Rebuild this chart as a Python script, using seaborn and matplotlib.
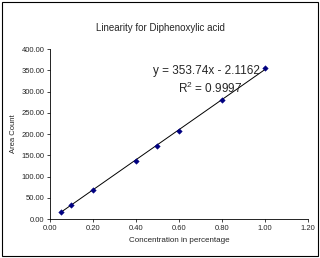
import seaborn as sns
import pandas as pd
import numpy as np
import matplotlib.pyplot as plt
from matplotlib.patches import Rectangle

# data
conc = [0.05, 0.10, 0.20, 0.40, 0.50, 0.60, 0.80, 1.00]
area = [17.0, 32.0, 69.0, 136.0, 173.0, 207.0, 279.0, 355.0]
slope = 353.74
intercept = -2.1162
r2 = 0.9997

df = pd.DataFrame({'Concentration': conc, 'Area': area})

sns.set_style("white")
plt.rcParams['font.family'] = ['Liberation Sans', 'DejaVu Sans']
plt.rcParams['mathtext.fontset'] = 'custom'
plt.rcParams['mathtext.rm'] = 'Liberation Sans'
plt.rcParams['mathtext.it'] = 'Liberation Sans'

fig = plt.figure(figsize=(3.2, 2.58), dpi=100)
ax = fig.add_axes([0.156, 0.151, 0.806, 0.659])

# trend line
xs = np.array([min(conc), max(conc)])
sns.lineplot(x=xs, y=slope * xs + intercept, color='black', linewidth=0.7, ax=ax)
sns.scatterplot(data=df, x='Concentration', y='Area', marker='D', s=8,
                color='#000080', edgecolor='#000080', linewidth=0.3, ax=ax, zorder=3)

ax.set_xlim(0, 1.2)
ax.set_ylim(0, 400)
ax.set_xticks(np.arange(0, 1.21, 0.2))
ax.set_yticks(np.arange(0, 401, 50))
ax.set_xticklabels([f'{v:.2f}' for v in np.arange(0, 1.21, 0.2)], fontsize=5.5)
ax.set_yticklabels([f'{v:.2f}' for v in np.arange(0, 401, 50)], fontsize=5.5)
ax.tick_params(direction='out', length=2.5, width=0.6, pad=1.5, bottom=True, left=True)
sns.despine(ax=ax)
for s in ['left', 'bottom']:
    ax.spines[s].set_linewidth(0.6)
    ax.spines[s].set_color('black')

ax.set_xlabel('Concentration in percentage', fontsize=5.8, labelpad=4)
ax.set_ylabel('Area Count', fontsize=5.5, labelpad=3)
fig.text(0.5, 0.89, 'Linearity for Diphenoxylic acid', ha='center', va='center', fontsize=7)

ax.text(0.726, 349, f'y = {slope}x - {abs(intercept)}', ha='center', va='center', fontsize=8.5)
ax.text(0.744, 308, f'R$^{{2}}$ = {r2}', ha='center', va='center', fontsize=8.5)

fig.patches.append(Rectangle((0.006, 0.008), 0.988, 0.984, transform=fig.transFigure,
                             fill=False, edgecolor='black', linewidth=0.8))

fig.savefig('out.png', dpi=100)
